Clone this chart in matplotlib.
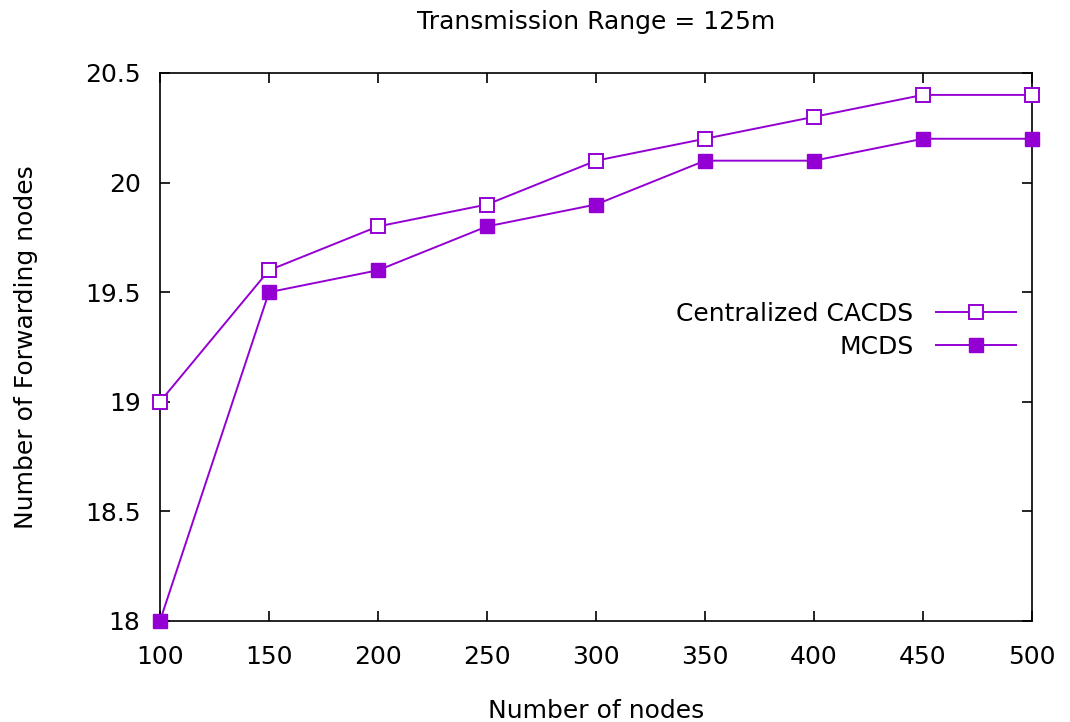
import matplotlib
matplotlib.use("Agg")
import matplotlib.pyplot as plt

nodes = [100, 150, 200, 250, 300, 350, 400, 450, 500]
cacds = [19.0, 19.6, 19.8, 19.9, 20.1, 20.2, 20.3, 20.4, 20.4]
mcds = [18.0, 19.5, 19.6, 19.8, 19.9, 20.1, 20.1, 20.2, 20.2]
yticks = [18, 18.5, 19, 19.5, 20, 20.5]
ytick_labels = ["18", "18.5", "19", "19.5", "20", "20.5"]

purple = "#9400d3"
plt.rcParams["font.family"] = ["DejaVu Sans"]
fs = 18

fig = plt.figure(figsize=(10.7, 7.22), dpi=100)
ax = fig.add_axes([0.1495, 0.1399, 0.815, 0.759])

ax.plot(nodes, cacds, color=purple, lw=1.4, marker="s", ms=10,
        mfc="white", mec=purple, mew=1.4, label="Centralized CACDS")
ax.plot(nodes, mcds, color=purple, lw=1.4, marker="s", ms=10,
        mfc=purple, mec=purple, label="MCDS")

ax.set_xlim(100, 500)
ax.set_ylim(18, 20.5)
ax.set_xticks(nodes)
ax.set_yticks(yticks)
ax.set_yticklabels(ytick_labels)
ax.tick_params(direction="in", top=True, right=True, length=7, width=1.2,
               labelsize=fs, colors="black")
ax.tick_params(axis="x", pad=17)
ax.tick_params(axis="y", pad=14)
for sp in ax.spines.values():
    sp.set_linewidth(1.2)
    sp.set_zorder(1)
for ln in ax.lines:
    ln.set_clip_on(False)

ax.set_title("Transmission Range = 125m", fontsize=fs, pad=32)
ax.set_xlabel("Number of nodes", fontsize=fs, labelpad=22)
ax.set_ylabel("Number of Forwarding nodes", fontsize=fs, labelpad=34)

ax.legend(loc="upper right", bbox_to_anchor=(0.993, 0.60), frameon=False,
          markerfirst=False, fontsize=fs, handlelength=3.2, handletextpad=0.9,
          labelspacing=0.35, borderaxespad=0)

fig.savefig("out.png", dpi=100)
